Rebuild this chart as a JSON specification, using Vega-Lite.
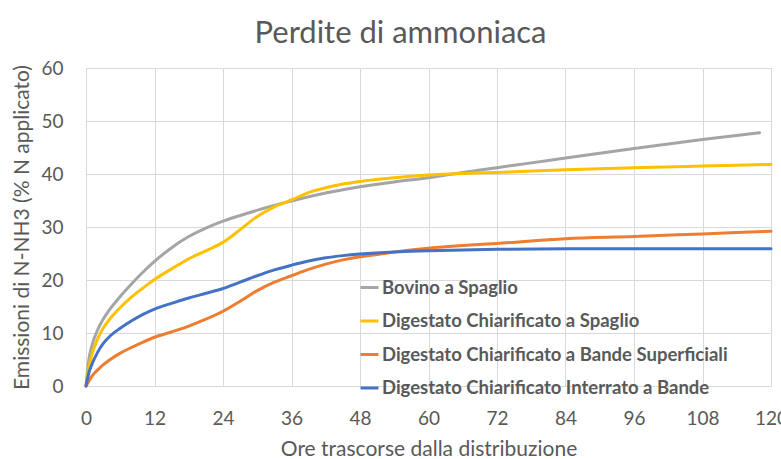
{
  "$schema": "https://vega.github.io/schema/vega-lite/v6.json",
  "width": 685,
  "height": 318,
  "autosize": {"type": "none"},
  "padding": {"left": 86, "top": 68, "right": 10, "bottom": 73},
  "background": "white",
  "title": {
    "text": "Perdite di ammoniaca",
    "font": "Lato",
    "fontSize": 31,
    "fontWeight": "normal",
    "color": "#595959",
    "anchor": "middle",
    "dx": -28,
    "offset": 9
  },
  "config": {
    "view": {"stroke": null},
    "font": "Lato",
    "legend": {"padding": 0}
  },
  "data": {
    "values": [
      {"h": 0, "v": 0, "s": "Bovino a Spaglio"},
      {"h": 0.5, "v": 5, "s": "Bovino a Spaglio"},
      {"h": 1, "v": 7.5, "s": "Bovino a Spaglio"},
      {"h": 2, "v": 10.5, "s": "Bovino a Spaglio"},
      {"h": 3, "v": 12.6, "s": "Bovino a Spaglio"},
      {"h": 4, "v": 14.2, "s": "Bovino a Spaglio"},
      {"h": 6, "v": 16.9, "s": "Bovino a Spaglio"},
      {"h": 8, "v": 19.3, "s": "Bovino a Spaglio"},
      {"h": 10, "v": 21.5, "s": "Bovino a Spaglio"},
      {"h": 12, "v": 23.5, "s": "Bovino a Spaglio"},
      {"h": 15, "v": 26.1, "s": "Bovino a Spaglio"},
      {"h": 18, "v": 28.2, "s": "Bovino a Spaglio"},
      {"h": 21, "v": 29.8, "s": "Bovino a Spaglio"},
      {"h": 24, "v": 31.1, "s": "Bovino a Spaglio"},
      {"h": 28, "v": 32.5, "s": "Bovino a Spaglio"},
      {"h": 32, "v": 33.8, "s": "Bovino a Spaglio"},
      {"h": 36, "v": 34.9, "s": "Bovino a Spaglio"},
      {"h": 42, "v": 36.4, "s": "Bovino a Spaglio"},
      {"h": 48, "v": 37.6, "s": "Bovino a Spaglio"},
      {"h": 54, "v": 38.5, "s": "Bovino a Spaglio"},
      {"h": 60, "v": 39.3, "s": "Bovino a Spaglio"},
      {"h": 66, "v": 40.3, "s": "Bovino a Spaglio"},
      {"h": 72, "v": 41.2, "s": "Bovino a Spaglio"},
      {"h": 78, "v": 42.1, "s": "Bovino a Spaglio"},
      {"h": 84, "v": 43, "s": "Bovino a Spaglio"},
      {"h": 96, "v": 44.8, "s": "Bovino a Spaglio"},
      {"h": 108, "v": 46.5, "s": "Bovino a Spaglio"},
      {"h": 118, "v": 47.8, "s": "Bovino a Spaglio"},

      {"h": 0, "v": 0, "s": "Digestato Chiarificato a Spaglio"},
      {"h": 0.5, "v": 3.5, "s": "Digestato Chiarificato a Spaglio"},
      {"h": 1, "v": 5.8, "s": "Digestato Chiarificato a Spaglio"},
      {"h": 2, "v": 8.8, "s": "Digestato Chiarificato a Spaglio"},
      {"h": 3, "v": 10.9, "s": "Digestato Chiarificato a Spaglio"},
      {"h": 4, "v": 12.4, "s": "Digestato Chiarificato a Spaglio"},
      {"h": 6, "v": 14.8, "s": "Digestato Chiarificato a Spaglio"},
      {"h": 8, "v": 16.8, "s": "Digestato Chiarificato a Spaglio"},
      {"h": 10, "v": 18.5, "s": "Digestato Chiarificato a Spaglio"},
      {"h": 12, "v": 20.1, "s": "Digestato Chiarificato a Spaglio"},
      {"h": 15, "v": 22.1, "s": "Digestato Chiarificato a Spaglio"},
      {"h": 18, "v": 24, "s": "Digestato Chiarificato a Spaglio"},
      {"h": 21, "v": 25.5, "s": "Digestato Chiarificato a Spaglio"},
      {"h": 24, "v": 27.1, "s": "Digestato Chiarificato a Spaglio"},
      {"h": 27, "v": 29.5, "s": "Digestato Chiarificato a Spaglio"},
      {"h": 30, "v": 32, "s": "Digestato Chiarificato a Spaglio"},
      {"h": 33, "v": 33.8, "s": "Digestato Chiarificato a Spaglio"},
      {"h": 36, "v": 35.1, "s": "Digestato Chiarificato a Spaglio"},
      {"h": 39, "v": 36.5, "s": "Digestato Chiarificato a Spaglio"},
      {"h": 42, "v": 37.4, "s": "Digestato Chiarificato a Spaglio"},
      {"h": 45, "v": 38.1, "s": "Digestato Chiarificato a Spaglio"},
      {"h": 48, "v": 38.6, "s": "Digestato Chiarificato a Spaglio"},
      {"h": 54, "v": 39.3, "s": "Digestato Chiarificato a Spaglio"},
      {"h": 60, "v": 39.8, "s": "Digestato Chiarificato a Spaglio"},
      {"h": 66, "v": 40.1, "s": "Digestato Chiarificato a Spaglio"},
      {"h": 72, "v": 40.3, "s": "Digestato Chiarificato a Spaglio"},
      {"h": 84, "v": 40.8, "s": "Digestato Chiarificato a Spaglio"},
      {"h": 96, "v": 41.2, "s": "Digestato Chiarificato a Spaglio"},
      {"h": 108, "v": 41.5, "s": "Digestato Chiarificato a Spaglio"},
      {"h": 120, "v": 41.8, "s": "Digestato Chiarificato a Spaglio"},

      {"h": 0, "v": 0, "s": "Digestato Chiarificato a Bande Superficiali"},
      {"h": 0.5, "v": 0.9, "s": "Digestato Chiarificato a Bande Superficiali"},
      {"h": 1, "v": 1.8, "s": "Digestato Chiarificato a Bande Superficiali"},
      {"h": 2, "v": 3, "s": "Digestato Chiarificato a Bande Superficiali"},
      {"h": 3, "v": 4, "s": "Digestato Chiarificato a Bande Superficiali"},
      {"h": 4, "v": 4.8, "s": "Digestato Chiarificato a Bande Superficiali"},
      {"h": 6, "v": 6.2, "s": "Digestato Chiarificato a Bande Superficiali"},
      {"h": 8, "v": 7.3, "s": "Digestato Chiarificato a Bande Superficiali"},
      {"h": 10, "v": 8.3, "s": "Digestato Chiarificato a Bande Superficiali"},
      {"h": 12, "v": 9.2, "s": "Digestato Chiarificato a Bande Superficiali"},
      {"h": 15, "v": 10.2, "s": "Digestato Chiarificato a Bande Superficiali"},
      {"h": 18, "v": 11.3, "s": "Digestato Chiarificato a Bande Superficiali"},
      {"h": 21, "v": 12.6, "s": "Digestato Chiarificato a Bande Superficiali"},
      {"h": 24, "v": 14.1, "s": "Digestato Chiarificato a Bande Superficiali"},
      {"h": 27, "v": 16, "s": "Digestato Chiarificato a Bande Superficiali"},
      {"h": 30, "v": 18, "s": "Digestato Chiarificato a Bande Superficiali"},
      {"h": 33, "v": 19.6, "s": "Digestato Chiarificato a Bande Superficiali"},
      {"h": 36, "v": 20.8, "s": "Digestato Chiarificato a Bande Superficiali"},
      {"h": 39, "v": 22, "s": "Digestato Chiarificato a Bande Superficiali"},
      {"h": 42, "v": 23, "s": "Digestato Chiarificato a Bande Superficiali"},
      {"h": 45, "v": 23.8, "s": "Digestato Chiarificato a Bande Superficiali"},
      {"h": 48, "v": 24.4, "s": "Digestato Chiarificato a Bande Superficiali"},
      {"h": 51, "v": 24.8, "s": "Digestato Chiarificato a Bande Superficiali"},
      {"h": 54, "v": 25.3, "s": "Digestato Chiarificato a Bande Superficiali"},
      {"h": 60, "v": 26, "s": "Digestato Chiarificato a Bande Superficiali"},
      {"h": 66, "v": 26.5, "s": "Digestato Chiarificato a Bande Superficiali"},
      {"h": 72, "v": 26.9, "s": "Digestato Chiarificato a Bande Superficiali"},
      {"h": 84, "v": 27.8, "s": "Digestato Chiarificato a Bande Superficiali"},
      {"h": 96, "v": 28.2, "s": "Digestato Chiarificato a Bande Superficiali"},
      {"h": 108, "v": 28.7, "s": "Digestato Chiarificato a Bande Superficiali"},
      {"h": 120, "v": 29.2, "s": "Digestato Chiarificato a Bande Superficiali"},

      {"h": 0, "v": 0, "s": "Digestato Chiarificato Interrato a Bande"},
      {"h": 0.5, "v": 2.5, "s": "Digestato Chiarificato Interrato a Bande"},
      {"h": 1, "v": 4, "s": "Digestato Chiarificato Interrato a Bande"},
      {"h": 2, "v": 6.3, "s": "Digestato Chiarificato Interrato a Bande"},
      {"h": 3, "v": 8, "s": "Digestato Chiarificato Interrato a Bande"},
      {"h": 4, "v": 9.2, "s": "Digestato Chiarificato Interrato a Bande"},
      {"h": 6, "v": 10.9, "s": "Digestato Chiarificato Interrato a Bande"},
      {"h": 8, "v": 12.3, "s": "Digestato Chiarificato Interrato a Bande"},
      {"h": 10, "v": 13.5, "s": "Digestato Chiarificato Interrato a Bande"},
      {"h": 12, "v": 14.5, "s": "Digestato Chiarificato Interrato a Bande"},
      {"h": 15, "v": 15.6, "s": "Digestato Chiarificato Interrato a Bande"},
      {"h": 18, "v": 16.6, "s": "Digestato Chiarificato Interrato a Bande"},
      {"h": 21, "v": 17.5, "s": "Digestato Chiarificato Interrato a Bande"},
      {"h": 24, "v": 18.4, "s": "Digestato Chiarificato Interrato a Bande"},
      {"h": 27, "v": 19.6, "s": "Digestato Chiarificato Interrato a Bande"},
      {"h": 30, "v": 20.8, "s": "Digestato Chiarificato Interrato a Bande"},
      {"h": 33, "v": 21.9, "s": "Digestato Chiarificato Interrato a Bande"},
      {"h": 36, "v": 22.8, "s": "Digestato Chiarificato Interrato a Bande"},
      {"h": 39, "v": 23.6, "s": "Digestato Chiarificato Interrato a Bande"},
      {"h": 42, "v": 24.2, "s": "Digestato Chiarificato Interrato a Bande"},
      {"h": 45, "v": 24.6, "s": "Digestato Chiarificato Interrato a Bande"},
      {"h": 48, "v": 24.9, "s": "Digestato Chiarificato Interrato a Bande"},
      {"h": 54, "v": 25.3, "s": "Digestato Chiarificato Interrato a Bande"},
      {"h": 60, "v": 25.5, "s": "Digestato Chiarificato Interrato a Bande"},
      {"h": 72, "v": 25.8, "s": "Digestato Chiarificato Interrato a Bande"},
      {"h": 84, "v": 25.9, "s": "Digestato Chiarificato Interrato a Bande"},
      {"h": 96, "v": 25.9, "s": "Digestato Chiarificato Interrato a Bande"},
      {"h": 108, "v": 25.9, "s": "Digestato Chiarificato Interrato a Bande"},
      {"h": 120, "v": 25.9, "s": "Digestato Chiarificato Interrato a Bande"}
    ]
  },
  "mark": {"type": "line", "interpolate": "monotone", "strokeWidth": 3, "strokeCap": "round", "clip": false},
  "encoding": {
    "x": {
      "field": "h",
      "type": "quantitative",
      "scale": {"domain": [0, 120], "nice": false},
      "axis": {
        "values": [0, 12, 24, 36, 48, 60, 72, 84, 96, 108, 120],
        "title": "Ore trascorse dalla distribuzione",
        "titleFont": "Lato",
        "titleFontSize": 21,
        "titleFontWeight": "normal",
        "titleColor": "#595959",
        "titlePadding": 10,
        "labelFont": "Lato",
        "labelFontSize": 19,
        "labelColor": "#595959",
        "labelPadding": 23,
        "labelFlush": false,
        "labelOverlap": false,
        "ticks": false,
        "domain": false,
        "gridColor": "#D9D9D9",
        "gridWidth": 1
      }
    },
    "y": {
      "field": "v",
      "type": "quantitative",
      "scale": {"domain": [0, 60], "nice": false},
      "axis": {
        "values": [0, 10, 20, 30, 40, 50, 60],
        "title": "Emissioni di N-NH3 (% N applicato)",
        "titleFont": "Lato",
        "titleFontSize": 21,
        "titleFontWeight": "normal",
        "titleColor": "#595959",
        "titlePadding": 8,
        "labelFont": "Lato",
        "labelFontSize": 19,
        "labelColor": "#595959",
        "labelPadding": 23,
        "ticks": false,
        "domain": false,
        "gridColor": "#D9D9D9",
        "gridWidth": 1
      }
    },
    "color": {
      "field": "s",
      "type": "nominal",
      "sort": ["Bovino a Spaglio", "Digestato Chiarificato a Spaglio", "Digestato Chiarificato a Bande Superficiali", "Digestato Chiarificato Interrato a Bande"],
      "scale": {
        "domain": ["Bovino a Spaglio", "Digestato Chiarificato a Spaglio", "Digestato Chiarificato a Bande Superficiali", "Digestato Chiarificato Interrato a Bande"],
        "range": ["#A5A5A5", "#FFC000", "#ED7D31", "#4472C4"]
      },
      "legend": {
        "title": null,
        "orient": "none",
        "legendX": 273,
        "legendY": 209,
        "symbolType": "stroke",
        "symbolSize": 324,
        "symbolStrokeWidth": 3,
        "labelFont": "Lato",
        "labelFontSize": 18.5,
        "labelFontWeight": "bold",
        "labelColor": "#595959",
        "labelOffset": 2,
        "labelLimit": 500,
        "rowPadding": 13.5
      }
    }
  }
}
